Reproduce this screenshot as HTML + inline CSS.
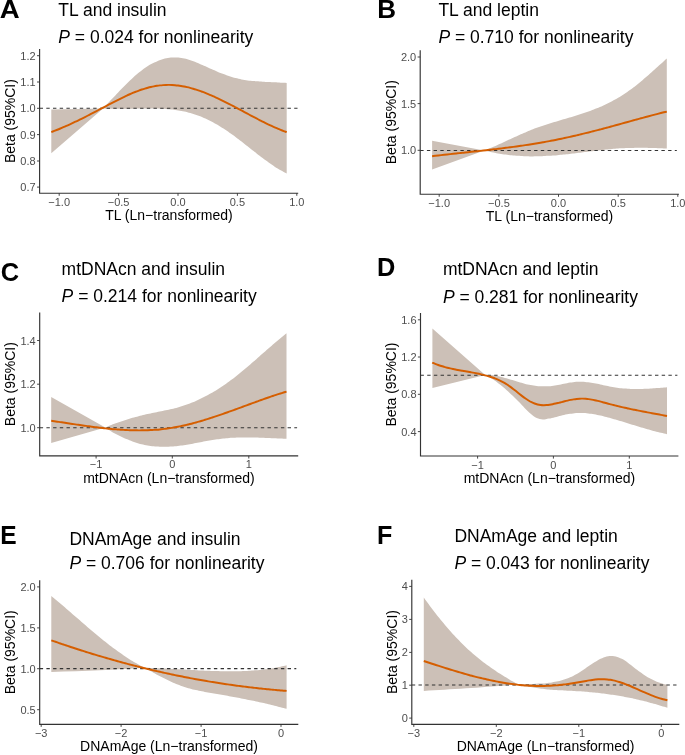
<!DOCTYPE html>
<html><head><meta charset="utf-8"><style>
html,body{margin:0;padding:0;background:#fff;}
svg{display:block;font-family:"Liberation Sans",sans-serif;will-change:transform;}
</style></head><body>
<svg width="685" height="755" viewBox="0 0 685 755" font-family="Liberation Sans, sans-serif">
<rect width="685" height="755" fill="#fff"/>
<path d="M51.30,109.60L103.10,108.50C104.10,107.44 105.11,106.38 106.11,105.32C107.11,104.25 108.12,103.18 109.12,102.10C110.12,101.03 111.13,99.95 112.13,98.87C113.13,97.80 114.14,96.72 115.14,95.65C116.14,94.58 117.15,93.51 118.15,92.45C119.15,91.39 120.16,90.34 121.16,89.30C122.16,88.25 123.17,87.22 124.17,86.20C125.17,85.18 126.18,84.18 127.18,83.19C128.18,82.20 129.19,81.22 130.19,80.27C131.19,79.32 132.20,78.38 133.20,77.47C134.20,76.56 135.20,75.67 136.21,74.81C137.21,73.95 138.21,73.11 139.22,72.30C140.22,71.49 141.22,70.71 142.23,69.97C143.23,69.22 144.23,68.50 145.24,67.82C146.24,67.13 147.24,66.48 148.25,65.86C149.25,65.24 150.25,64.65 151.26,64.09C152.26,63.53 153.26,63.01 154.27,62.52C155.27,62.03 156.27,61.58 157.28,61.16C158.28,60.73 159.28,60.35 160.29,60.00C161.29,59.64 162.29,59.33 163.30,59.05C164.30,58.77 165.30,58.52 166.31,58.31C167.31,58.10 168.31,57.93 169.32,57.80C170.32,57.66 171.32,57.56 172.33,57.50C173.33,57.44 174.33,57.42 175.34,57.44C176.34,57.45 177.34,57.51 178.35,57.60C179.35,57.69 180.35,57.82 181.36,57.98C182.36,58.14 183.36,58.33 184.37,58.55C185.37,58.77 186.37,59.03 187.38,59.31C188.38,59.58 189.38,59.89 190.39,60.22C191.39,60.55 192.39,60.90 193.40,61.27C194.40,61.64 195.40,62.03 196.40,62.43C197.41,62.83 198.41,63.25 199.41,63.68C200.42,64.10 201.42,64.54 202.42,64.97C203.43,65.41 204.43,65.86 205.43,66.31C206.44,66.75 207.44,67.20 208.44,67.65C209.45,68.10 210.45,68.55 211.45,69.00C212.46,69.45 213.46,69.90 214.46,70.34C215.47,70.78 216.47,71.21 217.47,71.64C218.48,72.07 219.48,72.49 220.48,72.91C221.49,73.32 222.49,73.72 223.49,74.11C224.50,74.50 225.50,74.88 226.50,75.24C227.51,75.60 228.51,75.95 229.51,76.28C230.52,76.61 231.52,76.92 232.52,77.21C233.53,77.50 234.53,77.78 235.53,78.04C236.54,78.29 237.54,78.53 238.54,78.76C239.55,78.98 240.55,79.19 241.55,79.38C242.56,79.57 243.56,79.75 244.56,79.92C245.57,80.09 246.57,80.24 247.57,80.38C248.58,80.52 249.58,80.65 250.58,80.77C251.59,80.89 252.59,81.00 253.59,81.10C254.60,81.20 255.60,81.29 256.60,81.37C257.60,81.45 258.61,81.53 259.61,81.60C260.61,81.67 261.62,81.73 262.62,81.79C263.62,81.85 264.63,81.90 265.63,81.95C266.63,82.01 267.64,82.05 268.64,82.10C269.64,82.14 270.65,82.19 271.65,82.23C272.65,82.27 273.66,82.31 274.66,82.36C275.66,82.40 276.67,82.44 277.67,82.49C278.67,82.54 279.68,82.58 280.68,82.64C281.68,82.69 282.69,82.74 283.69,82.80C284.69,82.86 285.70,82.93 286.70,83.00L286.70,173.60C285.70,173.09 284.69,172.60 283.69,172.06C282.69,171.52 281.68,170.96 280.68,170.37C279.68,169.79 278.67,169.19 277.67,168.56C276.67,167.94 275.66,167.30 274.66,166.64C273.66,165.98 272.65,165.30 271.65,164.61C270.65,163.92 269.64,163.21 268.64,162.49C267.64,161.77 266.63,161.04 265.63,160.30C264.63,159.56 263.62,158.81 262.62,158.05C261.62,157.29 260.61,156.52 259.61,155.74C258.61,154.97 257.60,154.18 256.60,153.40C255.60,152.62 254.60,151.83 253.59,151.04C252.59,150.25 251.59,149.45 250.58,148.66C249.58,147.87 248.58,147.07 247.57,146.28C246.57,145.49 245.57,144.70 244.56,143.92C243.56,143.14 242.56,142.35 241.55,141.58C240.55,140.80 239.55,140.03 238.54,139.27C237.54,138.50 236.54,137.75 235.53,137.00C234.53,136.25 233.53,135.51 232.52,134.79C231.52,134.06 230.52,133.34 229.51,132.64C228.51,131.93 227.51,131.24 226.50,130.56C225.50,129.88 224.50,129.22 223.49,128.57C222.49,127.92 221.49,127.29 220.48,126.67C219.48,126.05 218.48,125.44 217.47,124.86C216.47,124.27 215.47,123.69 214.46,123.14C213.46,122.58 212.46,122.04 211.45,121.52C210.45,120.99 209.45,120.49 208.44,120.00C207.44,119.51 206.44,119.04 205.43,118.58C204.43,118.13 203.43,117.69 202.42,117.27C201.42,116.85 200.42,116.45 199.41,116.07C198.41,115.69 197.41,115.32 196.40,114.98C195.40,114.63 194.40,114.30 193.40,113.99C192.39,113.68 191.39,113.38 190.39,113.10C189.38,112.82 188.38,112.56 187.38,112.31C186.37,112.06 185.37,111.83 184.37,111.61C183.36,111.39 182.36,111.18 181.36,110.99C180.35,110.80 179.35,110.62 178.35,110.45C177.34,110.29 176.34,110.13 175.34,109.99C174.33,109.85 173.33,109.72 172.33,109.60C171.32,109.48 170.32,109.37 169.32,109.27C168.31,109.18 167.31,109.09 166.31,109.01C165.30,108.93 164.30,108.86 163.30,108.80C162.29,108.74 161.29,108.68 160.29,108.64C159.28,108.59 158.28,108.55 157.28,108.52C156.27,108.49 155.27,108.47 154.27,108.45C153.26,108.43 152.26,108.42 151.26,108.41C150.25,108.40 149.25,108.40 148.25,108.40C147.24,108.40 146.24,108.41 145.24,108.41C144.23,108.42 143.23,108.44 142.23,108.45C141.22,108.47 140.22,108.48 139.22,108.50C138.21,108.52 137.21,108.54 136.21,108.56C135.20,108.59 134.20,108.61 133.20,108.63C132.20,108.65 131.19,108.68 130.19,108.70C129.19,108.72 128.18,108.74 127.18,108.76C126.18,108.78 125.17,108.80 124.17,108.82C123.17,108.83 122.16,108.84 121.16,108.85C120.16,108.86 119.15,108.87 118.15,108.87C117.15,108.88 116.14,108.87 115.14,108.87C114.14,108.86 113.13,108.85 112.13,108.83C111.13,108.82 110.12,108.79 109.12,108.76C108.12,108.73 107.11,108.70 106.11,108.65C105.11,108.61 104.10,108.55 103.10,108.50L103.10,108.50L51.30,153.30Z" fill="#CCC0B7"/>
<line x1="39.60" y1="108.30" x2="297.50" y2="108.30" stroke="#333" stroke-width="1.1" stroke-dasharray="3.4 3.3"/>
<path d="M51.30,132.10C52.31,131.71 53.31,131.33 54.32,130.94C55.32,130.55 56.33,130.15 57.34,129.74C58.34,129.34 59.35,128.92 60.35,128.50C61.36,128.08 62.37,127.65 63.37,127.22C64.38,126.79 65.38,126.35 66.39,125.90C67.40,125.46 68.40,125.01 69.41,124.55C70.41,124.09 71.42,123.63 72.43,123.16C73.43,122.69 74.44,122.22 75.44,121.74C76.45,121.26 77.46,120.77 78.46,120.28C79.47,119.79 80.47,119.30 81.48,118.80C82.49,118.30 83.49,117.79 84.50,117.29C85.50,116.78 86.51,116.27 87.52,115.75C88.52,115.24 89.53,114.72 90.53,114.20C91.54,113.67 92.55,113.15 93.55,112.62C94.56,112.10 95.56,111.57 96.57,111.04C97.58,110.51 98.58,109.98 99.59,109.45C100.59,108.92 101.60,108.39 102.61,107.86C103.61,107.33 104.62,106.80 105.62,106.27C106.63,105.74 107.64,105.22 108.64,104.69C109.65,104.16 110.65,103.64 111.66,103.11C112.66,102.59 113.67,102.07 114.68,101.56C115.68,101.04 116.69,100.53 117.69,100.02C118.70,99.51 119.71,99.01 120.71,98.51C121.72,98.02 122.72,97.53 123.73,97.05C124.74,96.57 125.74,96.09 126.75,95.63C127.75,95.16 128.76,94.71 129.77,94.26C130.77,93.82 131.78,93.39 132.78,92.97C133.79,92.55 134.80,92.14 135.80,91.74C136.81,91.35 137.81,90.96 138.82,90.60C139.83,90.23 140.83,89.88 141.84,89.54C142.84,89.21 143.85,88.89 144.86,88.59C145.86,88.28 146.87,88.00 147.87,87.73C148.88,87.46 149.89,87.21 150.89,86.98C151.90,86.75 152.90,86.53 153.91,86.34C154.92,86.14 155.92,85.97 156.93,85.81C157.93,85.65 158.94,85.51 159.95,85.39C160.95,85.28 161.96,85.18 162.96,85.10C163.97,85.02 164.98,84.96 165.98,84.93C166.99,84.89 167.99,84.87 169.00,84.88C170.01,84.88 171.01,84.91 172.02,84.96C173.02,85.00 174.03,85.07 175.04,85.16C176.04,85.25 177.05,85.36 178.05,85.48C179.06,85.61 180.07,85.76 181.07,85.92C182.08,86.08 183.08,86.27 184.09,86.46C185.10,86.66 186.10,86.88 187.11,87.11C188.11,87.34 189.12,87.59 190.13,87.86C191.13,88.12 192.14,88.40 193.14,88.70C194.15,88.99 195.16,89.30 196.16,89.62C197.17,89.94 198.17,90.28 199.18,90.63C200.19,90.98 201.19,91.34 202.20,91.71C203.20,92.09 204.21,92.47 205.22,92.87C206.22,93.27 207.23,93.68 208.23,94.09C209.24,94.51 210.25,94.94 211.25,95.38C212.26,95.82 213.26,96.26 214.27,96.72C215.28,97.18 216.28,97.64 217.29,98.11C218.29,98.58 219.30,99.06 220.31,99.55C221.31,100.04 222.32,100.53 223.32,101.03C224.33,101.53 225.34,102.03 226.34,102.54C227.35,103.05 228.35,103.57 229.36,104.08C230.36,104.60 231.37,105.13 232.38,105.65C233.38,106.18 234.39,106.71 235.39,107.24C236.40,107.77 237.41,108.31 238.41,108.84C239.42,109.38 240.42,109.92 241.43,110.46C242.44,110.99 243.44,111.53 244.45,112.07C245.45,112.61 246.46,113.15 247.47,113.69C248.47,114.22 249.48,114.76 250.48,115.29C251.49,115.83 252.50,116.36 253.50,116.89C254.51,117.42 255.51,117.95 256.52,118.47C257.53,118.99 258.53,119.51 259.54,120.03C260.54,120.54 261.55,121.06 262.56,121.56C263.56,122.06 264.57,122.57 265.57,123.06C266.58,123.55 267.59,124.04 268.59,124.52C269.60,125.00 270.60,125.47 271.61,125.94C272.62,126.40 273.62,126.86 274.63,127.31C275.63,127.75 276.64,128.19 277.65,128.62C278.65,129.05 279.66,129.47 280.66,129.88C281.67,130.29 282.68,130.69 283.68,131.07C284.69,131.46 285.69,131.82 286.70,132.20" fill="none" stroke="#D55E00" stroke-width="1.95" stroke-linecap="butt" stroke-linejoin="round"/>
<path d="M39.60,49.00V193.20H298.20" fill="none" stroke="#333333" stroke-width="1.15"/>
<line x1="37.00" y1="55.70" x2="39.60" y2="55.70" stroke="#333333" stroke-width="0.9"/>
<text x="35.60" y="59.70" text-anchor="end" font-size="11" fill="#4D4D4D">1.2</text>
<line x1="37.00" y1="82.00" x2="39.60" y2="82.00" stroke="#333333" stroke-width="0.9"/>
<text x="35.60" y="86.00" text-anchor="end" font-size="11" fill="#4D4D4D">1.1</text>
<line x1="37.00" y1="108.30" x2="39.60" y2="108.30" stroke="#333333" stroke-width="0.9"/>
<text x="35.60" y="112.30" text-anchor="end" font-size="11" fill="#4D4D4D">1.0</text>
<line x1="37.00" y1="134.60" x2="39.60" y2="134.60" stroke="#333333" stroke-width="0.9"/>
<text x="35.60" y="138.60" text-anchor="end" font-size="11" fill="#4D4D4D">0.9</text>
<line x1="37.00" y1="161.00" x2="39.60" y2="161.00" stroke="#333333" stroke-width="0.9"/>
<text x="35.60" y="165.00" text-anchor="end" font-size="11" fill="#4D4D4D">0.8</text>
<line x1="37.00" y1="187.10" x2="39.60" y2="187.10" stroke="#333333" stroke-width="0.9"/>
<text x="35.60" y="191.10" text-anchor="end" font-size="11" fill="#4D4D4D">0.7</text>
<line x1="59.20" y1="193.20" x2="59.20" y2="195.80" stroke="#333333" stroke-width="0.9"/>
<text x="59.20" y="205.70" text-anchor="middle" font-size="11" fill="#4D4D4D">−1.0</text>
<line x1="118.60" y1="193.20" x2="118.60" y2="195.80" stroke="#333333" stroke-width="0.9"/>
<text x="118.60" y="205.70" text-anchor="middle" font-size="11" fill="#4D4D4D">−0.5</text>
<line x1="178.00" y1="193.20" x2="178.00" y2="195.80" stroke="#333333" stroke-width="0.9"/>
<text x="178.00" y="205.70" text-anchor="middle" font-size="11" fill="#4D4D4D">0.0</text>
<line x1="237.40" y1="193.20" x2="237.40" y2="195.80" stroke="#333333" stroke-width="0.9"/>
<text x="237.40" y="205.70" text-anchor="middle" font-size="11" fill="#4D4D4D">0.5</text>
<line x1="296.80" y1="193.20" x2="296.80" y2="195.80" stroke="#333333" stroke-width="0.9"/>
<text x="296.80" y="205.70" text-anchor="middle" font-size="11" fill="#4D4D4D">1.0</text>
<text x="168.90" y="220.00" text-anchor="middle" font-size="14" fill="#000">TL (Ln−transformed)</text>
<text transform="translate(15.00,121.10) rotate(-90)" text-anchor="middle" font-size="14" fill="#000">Beta (95%CI)</text>
<text x="-0.34" y="18.40" font-size="26.5" font-weight="bold" fill="#000" textLength="19.93" lengthAdjust="spacingAndGlyphs">A</text>
<text x="58.30" y="15.60" font-size="17.5" fill="#000">TL and insulin</text>
<text x="58.30" y="42.70" font-size="17.5" fill="#000"><tspan font-style="italic">P</tspan> = 0.024 for nonlinearity</text>
<path d="M432.10,140.80L484.30,150.60C485.31,150.19 486.33,149.79 487.34,149.38C488.36,148.96 489.37,148.54 490.38,148.11C491.40,147.68 492.41,147.24 493.43,146.79C494.44,146.35 495.45,145.90 496.47,145.45C497.48,144.99 498.49,144.54 499.51,144.07C500.52,143.61 501.54,143.15 502.55,142.68C503.56,142.21 504.58,141.74 505.59,141.27C506.61,140.80 507.62,140.33 508.63,139.86C509.65,139.39 510.66,138.92 511.68,138.45C512.69,137.98 513.70,137.51 514.72,137.05C515.73,136.58 516.74,136.12 517.76,135.66C518.77,135.20 519.79,134.74 520.80,134.30C521.81,133.85 522.83,133.40 523.84,132.96C524.86,132.52 525.87,132.09 526.88,131.66C527.90,131.24 528.91,130.82 529.92,130.41C530.94,130.00 531.95,129.60 532.97,129.21C533.98,128.82 534.99,128.44 536.01,128.06C537.02,127.69 538.04,127.33 539.05,126.97C540.06,126.61 541.08,126.26 542.09,125.92C543.11,125.58 544.12,125.24 545.13,124.91C546.15,124.58 547.16,124.25 548.17,123.93C549.19,123.61 550.20,123.30 551.22,122.99C552.23,122.68 553.24,122.37 554.26,122.06C555.27,121.76 556.29,121.46 557.30,121.15C558.31,120.85 559.33,120.56 560.34,120.26C561.36,119.96 562.37,119.66 563.38,119.37C564.40,119.07 565.41,118.77 566.42,118.47C567.44,118.18 568.45,117.88 569.47,117.58C570.48,117.27 571.49,116.97 572.51,116.67C573.52,116.36 574.54,116.05 575.55,115.74C576.56,115.42 577.58,115.11 578.59,114.79C579.61,114.46 580.62,114.14 581.63,113.81C582.65,113.47 583.66,113.14 584.67,112.79C585.69,112.44 586.70,112.09 587.72,111.73C588.73,111.37 589.74,111.01 590.76,110.63C591.77,110.26 592.79,109.87 593.80,109.48C594.81,109.08 595.83,108.68 596.84,108.27C597.86,107.86 598.87,107.43 599.88,107.00C600.90,106.56 601.91,106.12 602.92,105.66C603.94,105.21 604.95,104.74 605.97,104.25C606.98,103.77 607.99,103.28 609.01,102.77C610.02,102.26 611.04,101.74 612.05,101.20C613.06,100.67 614.08,100.12 615.09,99.55C616.11,98.99 617.12,98.41 618.13,97.81C619.15,97.21 620.16,96.60 621.17,95.97C622.19,95.34 623.20,94.69 624.22,94.02C625.23,93.36 626.24,92.68 627.26,91.97C628.27,91.27 629.29,90.55 630.30,89.81C631.31,89.07 632.33,88.32 633.34,87.54C634.36,86.77 635.37,85.98 636.38,85.17C637.40,84.37 638.41,83.55 639.42,82.72C640.44,81.89 641.45,81.04 642.47,80.19C643.48,79.34 644.49,78.47 645.51,77.60C646.52,76.72 647.54,75.84 648.55,74.95C649.56,74.06 650.58,73.16 651.59,72.26C652.61,71.36 653.62,70.45 654.63,69.55C655.65,68.64 656.66,67.72 657.67,66.81C658.69,65.90 659.70,64.98 660.72,64.07C661.73,63.15 662.74,62.24 663.76,61.32C664.77,60.41 665.79,59.51 666.80,58.60L666.80,148.60C665.79,148.55 664.77,148.49 663.76,148.44C662.74,148.39 661.73,148.35 660.72,148.30C659.70,148.26 658.69,148.21 657.67,148.18C656.66,148.14 655.65,148.10 654.63,148.07C653.62,148.04 652.61,148.01 651.59,147.98C650.58,147.96 649.56,147.93 648.55,147.91C647.54,147.90 646.52,147.88 645.51,147.87C644.49,147.86 643.48,147.85 642.47,147.84C641.45,147.84 640.44,147.84 639.42,147.84C638.41,147.85 637.40,147.85 636.38,147.86C635.37,147.88 634.36,147.89 633.34,147.91C632.33,147.93 631.31,147.96 630.30,147.99C629.29,148.01 628.27,148.05 627.26,148.09C626.24,148.12 625.23,148.17 624.22,148.21C623.20,148.26 622.19,148.31 621.17,148.37C620.16,148.43 619.15,148.49 618.13,148.56C617.12,148.62 616.11,148.70 615.09,148.77C614.08,148.85 613.06,148.93 612.05,149.02C611.04,149.10 610.02,149.20 609.01,149.29C607.99,149.38 606.98,149.48 605.97,149.58C604.95,149.69 603.94,149.79 602.92,149.90C601.91,150.01 600.90,150.12 599.88,150.23C598.87,150.34 597.86,150.46 596.84,150.58C595.83,150.69 594.81,150.81 593.80,150.94C592.79,151.06 591.77,151.18 590.76,151.30C589.74,151.43 588.73,151.55 587.72,151.68C586.70,151.80 585.69,151.93 584.67,152.05C583.66,152.18 582.65,152.31 581.63,152.43C580.62,152.56 579.61,152.68 578.59,152.81C577.58,152.93 576.56,153.06 575.55,153.18C574.54,153.30 573.52,153.42 572.51,153.54C571.49,153.66 570.48,153.78 569.47,153.90C568.45,154.01 567.44,154.13 566.42,154.24C565.41,154.35 564.40,154.46 563.38,154.56C562.37,154.67 561.36,154.77 560.34,154.87C559.33,154.97 558.31,155.06 557.30,155.16C556.29,155.25 555.27,155.33 554.26,155.42C553.24,155.50 552.23,155.58 551.22,155.66C550.20,155.73 549.19,155.80 548.17,155.86C547.16,155.93 546.15,155.99 545.13,156.04C544.12,156.10 543.11,156.14 542.09,156.19C541.08,156.23 540.06,156.27 539.05,156.30C538.04,156.32 537.02,156.35 536.01,156.36C534.99,156.38 533.98,156.39 532.97,156.39C531.95,156.40 530.94,156.39 529.92,156.38C528.91,156.37 527.90,156.35 526.88,156.32C525.87,156.29 524.86,156.25 523.84,156.21C522.83,156.17 521.81,156.11 520.80,156.06C519.79,156.00 518.77,155.93 517.76,155.86C516.74,155.78 515.73,155.70 514.72,155.61C513.70,155.52 512.69,155.42 511.68,155.32C510.66,155.21 509.65,155.10 508.63,154.98C507.62,154.86 506.61,154.73 505.59,154.59C504.58,154.46 503.56,154.31 502.55,154.16C501.54,154.01 500.52,153.85 499.51,153.68C498.49,153.52 497.48,153.34 496.47,153.16C495.45,152.98 494.44,152.79 493.43,152.59C492.41,152.39 491.40,152.19 490.38,151.97C489.37,151.76 488.36,151.54 487.34,151.31C486.33,151.08 485.31,150.84 484.30,150.60L484.30,150.60L432.10,169.50Z" fill="#CCC0B7"/>
<line x1="420.20" y1="150.50" x2="676.80" y2="150.50" stroke="#333" stroke-width="1.1" stroke-dasharray="3.4 3.3"/>
<path d="M432.10,156.20C433.10,156.08 434.11,155.96 435.11,155.84C436.11,155.72 437.11,155.61 438.12,155.49C439.12,155.37 440.12,155.26 441.13,155.14C442.13,155.03 443.13,154.92 444.14,154.80C445.14,154.69 446.14,154.58 447.14,154.47C448.15,154.36 449.15,154.24 450.15,154.13C451.16,154.02 452.16,153.91 453.16,153.80C454.17,153.69 455.17,153.58 456.17,153.47C457.17,153.36 458.18,153.26 459.18,153.15C460.18,153.04 461.19,152.93 462.19,152.82C463.19,152.71 464.20,152.60 465.20,152.50C466.20,152.39 467.20,152.28 468.21,152.17C469.21,152.06 470.21,151.95 471.22,151.84C472.22,151.74 473.22,151.63 474.23,151.52C475.23,151.41 476.23,151.30 477.23,151.19C478.24,151.08 479.24,150.97 480.24,150.86C481.25,150.74 482.25,150.63 483.25,150.52C484.26,150.41 485.26,150.29 486.26,150.18C487.26,150.07 488.27,149.95 489.27,149.84C490.27,149.72 491.28,149.61 492.28,149.49C493.28,149.37 494.29,149.25 495.29,149.13C496.29,149.02 497.29,148.89 498.30,148.77C499.30,148.65 500.30,148.53 501.31,148.41C502.31,148.28 503.31,148.16 504.32,148.03C505.32,147.90 506.32,147.78 507.32,147.65C508.33,147.52 509.33,147.39 510.33,147.26C511.34,147.12 512.34,146.99 513.34,146.86C514.35,146.72 515.35,146.58 516.35,146.44C517.35,146.31 518.36,146.17 519.36,146.02C520.36,145.88 521.37,145.74 522.37,145.59C523.37,145.44 524.38,145.30 525.38,145.15C526.38,145.00 527.38,144.84 528.39,144.69C529.39,144.54 530.39,144.38 531.40,144.22C532.40,144.06 533.40,143.90 534.41,143.74C535.41,143.57 536.41,143.41 537.41,143.24C538.42,143.07 539.42,142.90 540.42,142.73C541.43,142.55 542.43,142.38 543.43,142.20C544.44,142.02 545.44,141.84 546.44,141.66C547.44,141.47 548.45,141.29 549.45,141.10C550.45,140.91 551.46,140.71 552.46,140.52C553.46,140.32 554.46,140.13 555.47,139.92C556.47,139.72 557.47,139.52 558.48,139.31C559.48,139.11 560.48,138.90 561.49,138.69C562.49,138.48 563.49,138.26 564.49,138.05C565.50,137.83 566.50,137.61 567.50,137.39C568.51,137.17 569.51,136.95 570.51,136.72C571.52,136.50 572.52,136.27 573.52,136.04C574.52,135.81 575.53,135.57 576.53,135.34C577.53,135.11 578.54,134.87 579.54,134.63C580.54,134.39 581.55,134.15 582.55,133.91C583.55,133.67 584.55,133.42 585.56,133.17C586.56,132.93 587.56,132.68 588.57,132.43C589.57,132.18 590.57,131.93 591.58,131.67C592.58,131.42 593.58,131.16 594.58,130.91C595.59,130.65 596.59,130.39 597.59,130.13C598.60,129.87 599.60,129.61 600.60,129.34C601.61,129.08 602.61,128.82 603.61,128.55C604.61,128.28 605.62,128.02 606.62,127.75C607.62,127.48 608.63,127.21 609.63,126.94C610.63,126.67 611.64,126.39 612.64,126.12C613.64,125.85 614.64,125.57 615.65,125.30C616.65,125.02 617.65,124.74 618.66,124.47C619.66,124.19 620.66,123.91 621.67,123.64C622.67,123.36 623.67,123.08 624.67,122.80C625.68,122.52 626.68,122.24 627.68,121.97C628.69,121.69 629.69,121.41 630.69,121.13C631.70,120.85 632.70,120.57 633.70,120.30C634.70,120.02 635.71,119.74 636.71,119.47C637.71,119.19 638.72,118.91 639.72,118.64C640.72,118.36 641.73,118.09 642.73,117.82C643.73,117.55 644.73,117.27 645.74,117.00C646.74,116.73 647.74,116.46 648.75,116.20C649.75,115.93 650.75,115.66 651.76,115.40C652.76,115.13 653.76,114.87 654.76,114.61C655.77,114.35 656.77,114.09 657.77,113.83C658.78,113.58 659.78,113.32 660.78,113.07C661.79,112.82 662.79,112.57 663.79,112.32C664.79,112.08 665.80,111.83 666.80,111.59" fill="none" stroke="#D55E00" stroke-width="1.95" stroke-linecap="butt" stroke-linejoin="round"/>
<path d="M420.20,50.20V194.20H678.90" fill="none" stroke="#333333" stroke-width="1.15"/>
<line x1="417.60" y1="57.00" x2="420.20" y2="57.00" stroke="#333333" stroke-width="0.9"/>
<text x="416.20" y="61.00" text-anchor="end" font-size="11" fill="#4D4D4D">2.0</text>
<line x1="417.60" y1="103.60" x2="420.20" y2="103.60" stroke="#333333" stroke-width="0.9"/>
<text x="416.20" y="107.60" text-anchor="end" font-size="11" fill="#4D4D4D">1.5</text>
<line x1="417.60" y1="150.30" x2="420.20" y2="150.30" stroke="#333333" stroke-width="0.9"/>
<text x="416.20" y="154.30" text-anchor="end" font-size="11" fill="#4D4D4D">1.0</text>
<line x1="439.20" y1="194.20" x2="439.20" y2="196.80" stroke="#333333" stroke-width="0.9"/>
<text x="439.20" y="206.70" text-anchor="middle" font-size="11" fill="#4D4D4D">−1.0</text>
<line x1="498.90" y1="194.20" x2="498.90" y2="196.80" stroke="#333333" stroke-width="0.9"/>
<text x="498.90" y="206.70" text-anchor="middle" font-size="11" fill="#4D4D4D">−0.5</text>
<line x1="558.50" y1="194.20" x2="558.50" y2="196.80" stroke="#333333" stroke-width="0.9"/>
<text x="558.50" y="206.70" text-anchor="middle" font-size="11" fill="#4D4D4D">0.0</text>
<line x1="618.20" y1="194.20" x2="618.20" y2="196.80" stroke="#333333" stroke-width="0.9"/>
<text x="618.20" y="206.70" text-anchor="middle" font-size="11" fill="#4D4D4D">0.5</text>
<line x1="677.80" y1="194.20" x2="677.80" y2="196.80" stroke="#333333" stroke-width="0.9"/>
<text x="677.80" y="206.70" text-anchor="middle" font-size="11" fill="#4D4D4D">1.0</text>
<text x="549.55" y="221.00" text-anchor="middle" font-size="14" fill="#000">TL (Ln−transformed)</text>
<text transform="translate(395.60,122.20) rotate(-90)" text-anchor="middle" font-size="14" fill="#000">Beta (95%CI)</text>
<text x="377.14" y="18.40" font-size="26.5" font-weight="bold" fill="#000" textLength="18.78" lengthAdjust="spacingAndGlyphs">B</text>
<text x="438.40" y="15.90" font-size="17.5" fill="#000">TL and leptin</text>
<text x="438.40" y="42.80" font-size="17.5" fill="#000"><tspan font-style="italic">P</tspan> = 0.710 for nonlinearity</text>
<path d="M51.20,396.90L105.30,427.60C106.31,427.17 107.31,426.72 108.32,426.30C109.33,425.87 110.33,425.46 111.34,425.05C112.35,424.65 113.35,424.25 114.36,423.87C115.37,423.48 116.37,423.10 117.38,422.74C118.39,422.37 119.39,422.01 120.40,421.66C121.41,421.31 122.41,420.96 123.42,420.63C124.43,420.30 125.43,419.97 126.44,419.65C127.45,419.34 128.45,419.03 129.46,418.73C130.47,418.42 131.47,418.13 132.48,417.84C133.49,417.56 134.49,417.28 135.50,417.01C136.51,416.74 137.51,416.47 138.52,416.21C139.53,415.96 140.53,415.70 141.54,415.46C142.55,415.22 143.55,414.98 144.56,414.75C145.57,414.52 146.57,414.29 147.58,414.07C148.59,413.85 149.59,413.64 150.60,413.43C151.61,413.22 152.61,413.02 153.62,412.81C154.63,412.61 155.63,412.41 156.64,412.20C157.65,412.00 158.65,411.80 159.66,411.60C160.67,411.40 161.67,411.19 162.68,410.99C163.69,410.78 164.69,410.57 165.70,410.35C166.71,410.14 167.71,409.92 168.72,409.69C169.73,409.46 170.73,409.23 171.74,408.98C172.75,408.74 173.75,408.49 174.76,408.23C175.77,407.97 176.77,407.70 177.78,407.41C178.79,407.13 179.79,406.83 180.80,406.52C181.81,406.21 182.81,405.89 183.82,405.56C184.83,405.22 185.83,404.87 186.84,404.51C187.85,404.14 188.85,403.77 189.86,403.38C190.87,402.99 191.87,402.59 192.88,402.17C193.89,401.75 194.89,401.32 195.90,400.88C196.91,400.44 197.91,399.98 198.92,399.52C199.93,399.05 200.93,398.56 201.94,398.07C202.95,397.57 203.95,397.06 204.96,396.54C205.97,396.02 206.97,395.49 207.98,394.94C208.99,394.39 209.99,393.83 211.00,393.25C212.01,392.68 213.01,392.09 214.02,391.49C215.03,390.89 216.03,390.28 217.04,389.65C218.05,389.02 219.05,388.38 220.06,387.73C221.07,387.08 222.07,386.41 223.08,385.73C224.09,385.05 225.09,384.36 226.10,383.65C227.11,382.95 228.11,382.23 229.12,381.50C230.13,380.77 231.13,380.02 232.14,379.27C233.15,378.51 234.15,377.74 235.16,376.96C236.17,376.17 237.17,375.38 238.18,374.57C239.19,373.77 240.19,372.95 241.20,372.12C242.21,371.30 243.21,370.46 244.22,369.62C245.23,368.78 246.23,367.92 247.24,367.07C248.25,366.21 249.25,365.34 250.26,364.47C251.27,363.60 252.27,362.73 253.28,361.85C254.29,360.97 255.29,360.09 256.30,359.20C257.31,358.32 258.31,357.43 259.32,356.54C260.33,355.65 261.33,354.76 262.34,353.87C263.35,352.98 264.35,352.09 265.36,351.20C266.37,350.32 267.37,349.43 268.38,348.55C269.39,347.67 270.39,346.79 271.40,345.91C272.41,345.04 273.41,344.17 274.42,343.30C275.43,342.44 276.43,341.58 277.44,340.73C278.45,339.88 279.45,339.03 280.46,338.20C281.47,337.36 282.47,336.53 283.48,335.72C284.49,334.90 285.49,334.11 286.50,333.30L286.50,438.80C285.49,438.77 284.49,438.74 283.48,438.70C282.47,438.67 281.47,438.63 280.46,438.59C279.45,438.55 278.45,438.50 277.44,438.46C276.43,438.42 275.43,438.37 274.42,438.32C273.41,438.28 272.41,438.23 271.40,438.19C270.39,438.14 269.39,438.09 268.38,438.05C267.37,438.00 266.37,437.96 265.36,437.91C264.35,437.87 263.35,437.82 262.34,437.78C261.33,437.74 260.33,437.70 259.32,437.67C258.31,437.63 257.31,437.60 256.30,437.57C255.29,437.54 254.29,437.51 253.28,437.49C252.27,437.47 251.27,437.45 250.26,437.43C249.25,437.42 248.25,437.41 247.24,437.40C246.23,437.40 245.23,437.40 244.22,437.41C243.21,437.41 242.21,437.43 241.20,437.45C240.19,437.47 239.19,437.49 238.18,437.52C237.17,437.56 236.17,437.60 235.16,437.64C234.15,437.69 233.15,437.75 232.14,437.81C231.13,437.88 230.13,437.95 229.12,438.03C228.11,438.11 227.11,438.20 226.10,438.30C225.09,438.39 224.09,438.50 223.08,438.61C222.07,438.72 221.07,438.84 220.06,438.96C219.05,439.09 218.05,439.22 217.04,439.36C216.03,439.51 215.03,439.65 214.02,439.81C213.01,439.96 212.01,440.13 211.00,440.29C209.99,440.46 208.99,440.64 207.98,440.82C206.97,440.99 205.97,441.18 204.96,441.37C203.95,441.55 202.95,441.74 201.94,441.93C200.93,442.12 199.93,442.32 198.92,442.51C197.91,442.70 196.91,442.89 195.90,443.08C194.89,443.27 193.89,443.46 192.88,443.65C191.87,443.83 190.87,444.01 189.86,444.19C188.85,444.37 187.85,444.54 186.84,444.71C185.83,444.87 184.83,445.03 183.82,445.18C182.81,445.34 181.81,445.48 180.80,445.61C179.79,445.75 178.79,445.87 177.78,445.99C176.77,446.10 175.77,446.20 174.76,446.30C173.75,446.39 172.75,446.47 171.74,446.54C170.73,446.61 169.73,446.66 168.72,446.71C167.71,446.75 166.71,446.78 165.70,446.80C164.69,446.82 163.69,446.82 162.68,446.81C161.67,446.80 160.67,446.77 159.66,446.73C158.65,446.69 157.65,446.64 156.64,446.56C155.63,446.49 154.63,446.40 153.62,446.30C152.61,446.20 151.61,446.07 150.60,445.94C149.59,445.80 148.59,445.64 147.58,445.47C146.57,445.29 145.57,445.10 144.56,444.89C143.55,444.67 142.55,444.44 141.54,444.20C140.53,443.95 139.53,443.68 138.52,443.40C137.51,443.11 136.51,442.81 135.50,442.49C134.49,442.17 133.49,441.83 132.48,441.47C131.47,441.11 130.47,440.74 129.46,440.35C128.45,439.95 127.45,439.54 126.44,439.12C125.43,438.69 124.43,438.24 123.42,437.78C122.41,437.32 121.41,436.84 120.40,436.34C119.39,435.84 118.39,435.33 117.38,434.80C116.37,434.26 115.37,433.71 114.36,433.15C113.35,432.58 112.35,432.00 111.34,431.40C110.33,430.80 109.33,430.18 108.32,429.55C107.31,428.92 106.31,428.25 105.30,427.60L105.30,427.60L51.20,442.90Z" fill="#CCC0B7"/>
<line x1="39.70" y1="427.70" x2="297.10" y2="427.70" stroke="#333" stroke-width="1.1" stroke-dasharray="3.4 3.3"/>
<path d="M51.20,420.80C52.21,420.94 53.21,421.08 54.22,421.23C55.22,421.37 56.23,421.52 57.23,421.67C58.24,421.82 59.24,421.96 60.25,422.11C61.26,422.26 62.26,422.41 63.27,422.56C64.27,422.71 65.28,422.86 66.28,423.02C67.29,423.17 68.29,423.32 69.30,423.47C70.31,423.62 71.31,423.77 72.32,423.92C73.32,424.07 74.33,424.22 75.33,424.37C76.34,424.52 77.34,424.66 78.35,424.81C79.36,424.96 80.36,425.10 81.37,425.25C82.37,425.39 83.38,425.54 84.38,425.68C85.39,425.82 86.39,425.96 87.40,426.10C88.41,426.24 89.41,426.38 90.42,426.51C91.42,426.65 92.43,426.78 93.43,426.91C94.44,427.04 95.44,427.17 96.45,427.29C97.46,427.42 98.46,427.54 99.47,427.66C100.47,427.78 101.48,427.90 102.48,428.01C103.49,428.13 104.49,428.24 105.50,428.35C106.51,428.46 107.51,428.56 108.52,428.66C109.52,428.76 110.53,428.86 111.53,428.95C112.54,429.05 113.54,429.14 114.55,429.22C115.56,429.31 116.56,429.39 117.57,429.47C118.57,429.54 119.58,429.62 120.58,429.69C121.59,429.75 122.59,429.82 123.60,429.88C124.61,429.93 125.61,429.99 126.62,430.04C127.62,430.08 128.63,430.13 129.63,430.17C130.64,430.20 131.64,430.24 132.65,430.26C133.66,430.29 134.66,430.31 135.67,430.33C136.67,430.34 137.68,430.35 138.68,430.35C139.69,430.36 140.69,430.35 141.70,430.34C142.71,430.33 143.71,430.32 144.72,430.29C145.72,430.27 146.73,430.24 147.73,430.20C148.74,430.17 149.74,430.12 150.75,430.07C151.76,430.02 152.76,429.96 153.77,429.90C154.77,429.83 155.78,429.76 156.78,429.68C157.79,429.60 158.79,429.51 159.80,429.41C160.81,429.31 161.81,429.21 162.82,429.10C163.82,428.98 164.83,428.86 165.83,428.73C166.84,428.60 167.84,428.46 168.85,428.31C169.86,428.17 170.86,428.01 171.87,427.85C172.87,427.68 173.88,427.51 174.88,427.33C175.89,427.15 176.89,426.96 177.90,426.76C178.91,426.56 179.91,426.36 180.92,426.14C181.92,425.93 182.93,425.71 183.93,425.48C184.94,425.26 185.94,425.02 186.95,424.78C187.96,424.54 188.96,424.29 189.97,424.04C190.97,423.79 191.98,423.53 192.98,423.26C193.99,422.99 194.99,422.72 196.00,422.44C197.01,422.17 198.01,421.88 199.02,421.59C200.02,421.31 201.03,421.01 202.03,420.71C203.04,420.41 204.04,420.11 205.05,419.80C206.06,419.49 207.06,419.18 208.07,418.86C209.07,418.54 210.08,418.22 211.08,417.89C212.09,417.57 213.09,417.24 214.10,416.91C215.11,416.57 216.11,416.24 217.12,415.90C218.12,415.56 219.13,415.21 220.13,414.87C221.14,414.52 222.14,414.17 223.15,413.82C224.16,413.47 225.16,413.11 226.17,412.76C227.17,412.40 228.18,412.04 229.18,411.68C230.19,411.32 231.19,410.96 232.20,410.60C233.21,410.23 234.21,409.87 235.22,409.50C236.22,409.14 237.23,408.77 238.23,408.40C239.24,408.03 240.24,407.67 241.25,407.30C242.26,406.93 243.26,406.56 244.27,406.19C245.27,405.82 246.28,405.45 247.28,405.08C248.29,404.71 249.29,404.34 250.30,403.97C251.31,403.60 252.31,403.24 253.32,402.87C254.32,402.50 255.33,402.14 256.33,401.77C257.34,401.41 258.34,401.05 259.35,400.68C260.36,400.32 261.36,399.96 262.37,399.61C263.37,399.25 264.38,398.89 265.38,398.54C266.39,398.19 267.39,397.84 268.40,397.49C269.41,397.14 270.41,396.79 271.42,396.45C272.42,396.11 273.43,395.77 274.43,395.44C275.44,395.10 276.44,394.77 277.45,394.44C278.46,394.11 279.46,393.79 280.47,393.47C281.47,393.15 282.48,392.83 283.48,392.52C284.49,392.21 285.49,391.90 286.50,391.60" fill="none" stroke="#D55E00" stroke-width="1.95" stroke-linecap="butt" stroke-linejoin="round"/>
<path d="M39.70,312.40V455.90H298.20" fill="none" stroke="#333333" stroke-width="1.15"/>
<line x1="37.10" y1="340.50" x2="39.70" y2="340.50" stroke="#333333" stroke-width="0.9"/>
<text x="35.70" y="344.50" text-anchor="end" font-size="11" fill="#4D4D4D">1.4</text>
<line x1="37.10" y1="384.20" x2="39.70" y2="384.20" stroke="#333333" stroke-width="0.9"/>
<text x="35.70" y="388.20" text-anchor="end" font-size="11" fill="#4D4D4D">1.2</text>
<line x1="37.10" y1="427.70" x2="39.70" y2="427.70" stroke="#333333" stroke-width="0.9"/>
<text x="35.70" y="431.70" text-anchor="end" font-size="11" fill="#4D4D4D">1.0</text>
<line x1="96.10" y1="455.90" x2="96.10" y2="458.50" stroke="#333333" stroke-width="0.9"/>
<text x="96.10" y="468.40" text-anchor="middle" font-size="11" fill="#4D4D4D">−1</text>
<line x1="172.30" y1="455.90" x2="172.30" y2="458.50" stroke="#333333" stroke-width="0.9"/>
<text x="172.30" y="468.40" text-anchor="middle" font-size="11" fill="#4D4D4D">0</text>
<line x1="248.80" y1="455.90" x2="248.80" y2="458.50" stroke="#333333" stroke-width="0.9"/>
<text x="248.80" y="468.40" text-anchor="middle" font-size="11" fill="#4D4D4D">1</text>
<text x="168.95" y="482.70" text-anchor="middle" font-size="14" fill="#000">mtDNAcn (Ln−transformed)</text>
<text transform="translate(15.10,384.15) rotate(-90)" text-anchor="middle" font-size="14" fill="#000">Beta (95%CI)</text>
<text x="0.84" y="281.00" font-size="26.5" font-weight="bold" fill="#000" textLength="18.35" lengthAdjust="spacingAndGlyphs">C</text>
<text x="61.60" y="275.20" font-size="17.5" fill="#000">mtDNAcn and insulin</text>
<text x="61.60" y="301.90" font-size="17.5" fill="#000"><tspan font-style="italic">P</tspan> = 0.214 for nonlinearity</text>
<path d="M432.40,328.60L485.20,374.90C486.21,374.90 487.22,374.87 488.23,374.91C489.24,374.94 490.25,375.01 491.26,375.11C492.27,375.21 493.28,375.33 494.29,375.48C495.30,375.63 496.31,375.81 497.32,376.01C498.33,376.21 499.34,376.43 500.35,376.66C501.36,376.90 502.37,377.15 503.38,377.42C504.39,377.68 505.40,377.96 506.41,378.25C507.42,378.54 508.43,378.84 509.44,379.14C510.45,379.45 511.46,379.76 512.47,380.07C513.48,380.38 514.49,380.69 515.50,381.00C516.51,381.31 517.52,381.62 518.53,381.92C519.54,382.23 520.55,382.52 521.56,382.81C522.57,383.10 523.58,383.37 524.59,383.64C525.60,383.90 526.61,384.15 527.62,384.38C528.63,384.61 529.64,384.82 530.65,385.01C531.66,385.21 532.67,385.38 533.68,385.53C534.69,385.68 535.70,385.82 536.71,385.93C537.72,386.04 538.73,386.13 539.74,386.20C540.75,386.27 541.76,386.32 542.77,386.34C543.78,386.37 544.79,386.38 545.80,386.36C546.81,386.35 547.82,386.31 548.83,386.25C549.84,386.19 550.85,386.11 551.86,386.00C552.87,385.90 553.88,385.77 554.89,385.62C555.90,385.47 556.91,385.30 557.92,385.11C558.93,384.92 559.94,384.71 560.95,384.50C561.96,384.29 562.97,384.07 563.98,383.85C564.99,383.63 566.00,383.41 567.01,383.20C568.02,383.00 569.03,382.79 570.04,382.62C571.05,382.44 572.06,382.27 573.07,382.13C574.08,382.00 575.09,381.88 576.10,381.81C577.11,381.73 578.12,381.69 579.13,381.68C580.14,381.66 581.15,381.68 582.16,381.73C583.17,381.77 584.18,381.84 585.19,381.93C586.20,382.02 587.21,382.14 588.22,382.27C589.23,382.41 590.24,382.56 591.25,382.73C592.26,382.89 593.27,383.08 594.28,383.27C595.29,383.46 596.30,383.66 597.31,383.87C598.32,384.08 599.33,384.30 600.34,384.52C601.35,384.74 602.36,384.96 603.37,385.18C604.38,385.40 605.39,385.63 606.40,385.84C607.41,386.06 608.42,386.27 609.43,386.48C610.44,386.68 611.45,386.88 612.46,387.06C613.47,387.24 614.48,387.41 615.49,387.57C616.50,387.73 617.51,387.87 618.52,388.00C619.53,388.12 620.54,388.24 621.55,388.34C622.56,388.44 623.57,388.53 624.58,388.61C625.59,388.69 626.60,388.76 627.61,388.81C628.62,388.87 629.63,388.91 630.64,388.95C631.65,388.98 632.66,389.00 633.67,389.02C634.68,389.04 635.69,389.04 636.70,389.04C637.71,389.04 638.72,389.02 639.73,389.00C640.74,388.99 641.75,388.96 642.76,388.92C643.77,388.89 644.78,388.85 645.79,388.80C646.80,388.76 647.81,388.70 648.82,388.65C649.83,388.59 650.84,388.52 651.85,388.46C652.86,388.39 653.87,388.32 654.88,388.24C655.89,388.16 656.90,388.08 657.91,388.00C658.92,387.92 659.93,387.83 660.94,387.74C661.95,387.66 662.96,387.57 663.97,387.48C664.98,387.39 665.99,387.29 667.00,387.20L667.00,434.20C665.99,433.98 664.98,433.77 663.97,433.54C662.96,433.31 661.95,433.08 660.94,432.83C659.93,432.59 658.92,432.34 657.91,432.08C656.90,431.83 655.89,431.56 654.88,431.29C653.87,431.03 652.86,430.75 651.85,430.47C650.84,430.19 649.83,429.91 648.82,429.62C647.81,429.33 646.80,429.03 645.79,428.74C644.78,428.44 643.77,428.14 642.76,427.84C641.75,427.54 640.74,427.23 639.73,426.92C638.72,426.62 637.71,426.31 636.70,426.00C635.69,425.69 634.68,425.37 633.67,425.06C632.66,424.75 631.65,424.44 630.64,424.13C629.63,423.81 628.62,423.50 627.61,423.19C626.60,422.88 625.59,422.57 624.58,422.26C623.57,421.95 622.56,421.65 621.55,421.34C620.54,421.04 619.53,420.74 618.52,420.44C617.51,420.14 616.50,419.85 615.49,419.56C614.48,419.27 613.47,418.98 612.46,418.70C611.45,418.42 610.44,418.14 609.43,417.87C608.42,417.60 607.41,417.34 606.40,417.08C605.39,416.82 604.38,416.57 603.37,416.32C602.36,416.07 601.35,415.84 600.34,415.60C599.33,415.37 598.32,415.15 597.31,414.94C596.30,414.73 595.29,414.52 594.28,414.33C593.27,414.15 592.26,413.97 591.25,413.81C590.24,413.65 589.23,413.51 588.22,413.39C587.21,413.27 586.20,413.17 585.19,413.09C584.18,413.01 583.17,412.95 582.16,412.93C581.15,412.90 580.14,412.90 579.13,412.92C578.12,412.95 577.11,413.00 576.10,413.08C575.09,413.16 574.08,413.26 573.07,413.39C572.06,413.51 571.05,413.66 570.04,413.82C569.03,413.98 568.02,414.16 567.01,414.35C566.00,414.55 564.99,414.76 563.98,414.97C562.97,415.19 561.96,415.42 560.95,415.66C559.94,415.89 558.93,416.14 557.92,416.38C556.91,416.63 555.90,416.88 554.89,417.13C553.88,417.38 552.87,417.64 551.86,417.88C550.85,418.13 549.84,418.39 548.83,418.61C547.82,418.82 546.81,419.05 545.80,419.18C544.79,419.32 543.78,419.43 542.77,419.42C541.76,419.41 540.75,419.34 539.74,419.12C538.73,418.90 537.72,418.57 536.71,418.10C535.70,417.62 534.69,416.99 533.68,416.28C532.67,415.57 531.66,414.73 530.65,413.85C529.64,412.98 528.63,412.00 527.62,411.02C526.61,410.03 525.60,408.99 524.59,407.95C523.58,406.90 522.57,405.82 521.56,404.77C520.55,403.71 519.54,402.64 518.53,401.60C517.52,400.56 516.51,399.53 515.50,398.52C514.49,397.50 513.48,396.51 512.47,395.53C511.46,394.55 510.45,393.59 509.44,392.65C508.43,391.71 507.42,390.79 506.41,389.89C505.40,388.99 504.39,388.12 503.38,387.26C502.37,386.41 501.36,385.58 500.35,384.78C499.34,383.98 498.33,383.20 497.32,382.45C496.31,381.70 495.30,380.98 494.29,380.28C493.28,379.59 492.27,378.93 491.26,378.30C490.25,377.67 489.24,377.06 488.23,376.50C487.22,375.93 486.21,375.43 485.20,374.90L485.20,374.90L432.40,388.00Z" fill="#CCC0B7"/>
<line x1="420.50" y1="375.30" x2="677.40" y2="375.30" stroke="#333" stroke-width="1.1" stroke-dasharray="3.4 3.3"/>
<path d="M432.20,362.60C433.20,363.02 434.21,363.46 435.21,363.85C436.21,364.25 437.22,364.62 438.22,364.98C439.22,365.33 440.23,365.66 441.23,365.98C442.23,366.30 443.24,366.59 444.24,366.88C445.24,367.16 446.25,367.43 447.25,367.68C448.25,367.94 449.26,368.18 450.26,368.41C451.26,368.64 452.27,368.85 453.27,369.06C454.28,369.28 455.28,369.47 456.28,369.67C457.29,369.86 458.29,370.05 459.29,370.23C460.30,370.42 461.30,370.59 462.30,370.77C463.31,370.95 464.31,371.12 465.31,371.29C466.32,371.46 467.32,371.64 468.32,371.81C469.33,371.99 470.33,372.16 471.33,372.34C472.34,372.52 473.34,372.71 474.34,372.90C475.35,373.09 476.35,373.29 477.35,373.49C478.36,373.70 479.36,373.91 480.36,374.14C481.37,374.37 482.37,374.60 483.37,374.85C484.38,375.10 485.38,375.36 486.38,375.64C487.39,375.91 488.39,376.20 489.39,376.51C490.40,376.82 491.40,377.15 492.41,377.49C493.41,377.84 494.41,378.20 495.42,378.59C496.42,378.98 497.42,379.40 498.43,379.84C499.43,380.29 500.43,380.76 501.44,381.27C502.44,381.78 503.44,382.32 504.45,382.90C505.45,383.49 506.45,384.11 507.46,384.78C508.46,385.44 509.46,386.16 510.47,386.90C511.47,387.64 512.47,388.42 513.48,389.21C514.48,389.99 515.48,390.81 516.49,391.61C517.49,392.42 518.49,393.23 519.50,394.02C520.50,394.81 521.50,395.60 522.51,396.35C523.51,397.10 524.51,397.84 525.52,398.52C526.52,399.21 527.52,399.86 528.53,400.47C529.53,401.07 530.54,401.64 531.54,402.14C532.54,402.64 533.55,403.10 534.55,403.48C535.55,403.86 536.56,404.19 537.56,404.44C538.56,404.69 539.57,404.87 540.57,404.99C541.57,405.11 542.58,405.16 543.58,405.17C544.58,405.18 545.59,405.13 546.59,405.05C547.59,404.97 548.60,404.85 549.60,404.71C550.60,404.56 551.61,404.39 552.61,404.20C553.61,404.01 554.62,403.79 555.62,403.56C556.62,403.34 557.63,403.09 558.63,402.85C559.63,402.60 560.64,402.34 561.64,402.09C562.64,401.83 563.65,401.57 564.65,401.32C565.65,401.06 566.66,400.81 567.66,400.58C568.66,400.34 569.67,400.11 570.67,399.90C571.68,399.70 572.68,399.50 573.68,399.34C574.69,399.17 575.69,399.03 576.69,398.92C577.70,398.81 578.70,398.72 579.70,398.68C580.71,398.63 581.71,398.63 582.71,398.65C583.72,398.67 584.72,398.73 585.72,398.81C586.73,398.90 587.73,399.01 588.73,399.15C589.74,399.29 590.74,399.45 591.74,399.63C592.75,399.81 593.75,400.01 594.75,400.23C595.76,400.44 596.76,400.68 597.76,400.92C598.77,401.16 599.77,401.42 600.77,401.68C601.78,401.94 602.78,402.22 603.78,402.49C604.79,402.76 605.79,403.04 606.79,403.31C607.80,403.58 608.80,403.86 609.81,404.13C610.81,404.39 611.81,404.66 612.82,404.91C613.82,405.17 614.82,405.42 615.83,405.67C616.83,405.92 617.83,406.16 618.84,406.40C619.84,406.64 620.84,406.87 621.85,407.10C622.85,407.34 623.85,407.56 624.86,407.78C625.86,408.01 626.86,408.23 627.87,408.44C628.87,408.66 629.87,408.87 630.88,409.08C631.88,409.29 632.88,409.50 633.89,409.70C634.89,409.91 635.89,410.11 636.90,410.31C637.90,410.51 638.90,410.70 639.91,410.90C640.91,411.09 641.91,411.29 642.92,411.48C643.92,411.67 644.92,411.86 645.93,412.05C646.93,412.24 647.94,412.43 648.94,412.62C649.94,412.81 650.95,412.99 651.95,413.18C652.95,413.37 653.96,413.55 654.96,413.74C655.96,413.93 656.97,414.11 657.97,414.30C658.97,414.49 659.98,414.67 660.98,414.86C661.98,415.05 662.99,415.24 663.99,415.43C664.99,415.62 666.00,415.81 667.00,416.00" fill="none" stroke="#D55E00" stroke-width="1.95" stroke-linecap="butt" stroke-linejoin="round"/>
<path d="M420.50,313.00V456.00H678.40" fill="none" stroke="#333333" stroke-width="1.15"/>
<line x1="417.90" y1="319.80" x2="420.50" y2="319.80" stroke="#333333" stroke-width="0.9"/>
<text x="416.50" y="323.80" text-anchor="end" font-size="11" fill="#4D4D4D">1.6</text>
<line x1="417.90" y1="357.00" x2="420.50" y2="357.00" stroke="#333333" stroke-width="0.9"/>
<text x="416.50" y="361.00" text-anchor="end" font-size="11" fill="#4D4D4D">1.2</text>
<line x1="417.90" y1="394.30" x2="420.50" y2="394.30" stroke="#333333" stroke-width="0.9"/>
<text x="416.50" y="398.30" text-anchor="end" font-size="11" fill="#4D4D4D">0.8</text>
<line x1="417.90" y1="431.60" x2="420.50" y2="431.60" stroke="#333333" stroke-width="0.9"/>
<text x="416.50" y="435.60" text-anchor="end" font-size="11" fill="#4D4D4D">0.4</text>
<line x1="477.60" y1="456.00" x2="477.60" y2="458.60" stroke="#333333" stroke-width="0.9"/>
<text x="477.60" y="468.50" text-anchor="middle" font-size="11" fill="#4D4D4D">−1</text>
<line x1="553.40" y1="456.00" x2="553.40" y2="458.60" stroke="#333333" stroke-width="0.9"/>
<text x="553.40" y="468.50" text-anchor="middle" font-size="11" fill="#4D4D4D">0</text>
<line x1="629.30" y1="456.00" x2="629.30" y2="458.60" stroke="#333333" stroke-width="0.9"/>
<text x="629.30" y="468.50" text-anchor="middle" font-size="11" fill="#4D4D4D">1</text>
<text x="549.45" y="482.80" text-anchor="middle" font-size="14" fill="#000">mtDNAcn (Ln−transformed)</text>
<text transform="translate(395.90,384.50) rotate(-90)" text-anchor="middle" font-size="14" fill="#000">Beta (95%CI)</text>
<text x="376.89" y="276.10" font-size="26.5" font-weight="bold" fill="#000" textLength="18.30" lengthAdjust="spacingAndGlyphs">D</text>
<text x="442.90" y="274.50" font-size="17.5" fill="#000">mtDNAcn and leptin</text>
<text x="442.90" y="303.00" font-size="17.5" fill="#000"><tspan font-style="italic">P</tspan> = 0.281 for nonlinearity</text>
<path d="M51.30,595.90C52.30,596.74 53.30,597.57 54.30,598.41C55.30,599.26 56.31,600.10 57.31,600.95C58.31,601.80 59.31,602.66 60.31,603.51C61.31,604.37 62.31,605.23 63.31,606.09C64.31,606.96 65.32,607.82 66.32,608.69C67.32,609.55 68.32,610.42 69.32,611.29C70.32,612.16 71.32,613.03 72.32,613.90C73.32,614.77 74.32,615.64 75.33,616.51C76.33,617.38 77.33,618.25 78.33,619.12C79.33,619.99 80.33,620.86 81.33,621.72C82.33,622.59 83.33,623.45 84.34,624.31C85.34,625.17 86.34,626.03 87.34,626.89C88.34,627.75 89.34,628.60 90.34,629.45C91.34,630.30 92.34,631.14 93.35,631.98C94.35,632.83 95.35,633.66 96.35,634.49C97.35,635.33 98.35,636.15 99.35,636.97C100.35,637.79 101.35,638.61 102.35,639.42C103.36,640.22 104.36,641.03 105.36,641.82C106.36,642.62 107.36,643.40 108.36,644.18C109.36,644.96 110.36,645.73 111.36,646.50C112.37,647.26 113.37,648.02 114.37,648.76C115.37,649.51 116.37,650.24 117.37,650.97C118.37,651.70 119.37,652.41 120.37,653.12C121.38,653.83 122.38,654.52 123.38,655.21C124.38,655.89 125.38,656.56 126.38,657.23C127.38,657.89 128.38,658.54 129.38,659.17C130.38,659.81 131.39,660.43 132.39,661.05C133.39,661.66 134.39,662.26 135.39,662.84C136.39,663.42 137.39,663.99 138.39,664.55C139.39,665.10 140.40,665.64 141.40,666.17C142.40,666.70 143.40,667.19 144.40,667.70C145.41,667.73 146.42,667.76 147.43,667.80C148.43,667.83 149.44,667.87 150.45,667.90C151.46,667.94 152.47,667.98 153.48,668.02C154.49,668.06 155.49,668.11 156.50,668.15C157.51,668.19 158.52,668.24 159.53,668.29C160.54,668.34 161.54,668.38 162.55,668.43C163.56,668.48 164.57,668.53 165.58,668.59C166.59,668.64 167.60,668.69 168.60,668.74C169.61,668.80 170.62,668.85 171.63,668.91C172.64,668.96 173.65,669.02 174.66,669.07C175.66,669.13 176.67,669.18 177.68,669.24C178.69,669.30 179.70,669.35 180.71,669.41C181.71,669.46 182.72,669.52 183.73,669.58C184.74,669.63 185.75,669.69 186.76,669.74C187.77,669.80 188.77,669.85 189.78,669.91C190.79,669.96 191.80,670.02 192.81,670.07C193.82,670.12 194.83,670.17 195.83,670.23C196.84,670.28 197.85,670.33 198.86,670.38C199.87,670.42 200.88,670.47 201.89,670.52C202.89,670.56 203.90,670.61 204.91,670.65C205.92,670.70 206.93,670.74 207.94,670.78C208.94,670.82 209.95,670.86 210.96,670.89C211.97,670.93 212.98,670.96 213.99,671.00C215.00,671.03 216.00,671.06 217.01,671.09C218.02,671.11 219.03,671.14 220.04,671.16C221.05,671.18 222.06,671.20 223.06,671.22C224.07,671.24 225.08,671.25 226.09,671.27C227.10,671.28 228.11,671.29 229.11,671.29C230.12,671.30 231.13,671.30 232.14,671.30C233.15,671.30 234.16,671.29 235.17,671.28C236.17,671.27 237.18,671.26 238.19,671.24C239.20,671.23 240.21,671.20 241.22,671.18C242.23,671.15 243.23,671.12 244.24,671.08C245.25,671.04 246.26,671.00 247.27,670.95C248.28,670.90 249.29,670.85 250.29,670.78C251.30,670.72 252.31,670.66 253.32,670.58C254.33,670.51 255.34,670.43 256.34,670.34C257.35,670.25 258.36,670.16 259.37,670.06C260.38,669.96 261.39,669.85 262.40,669.73C263.40,669.61 264.41,669.49 265.42,669.36C266.43,669.22 267.44,669.08 268.45,668.93C269.46,668.78 270.46,668.62 271.47,668.45C272.48,668.29 273.49,668.11 274.50,667.92C275.51,667.74 276.51,667.54 277.52,667.33C278.53,667.13 279.54,666.91 280.55,666.69C281.56,666.46 282.57,666.22 283.57,665.98C284.58,665.73 285.59,665.46 286.60,665.20L286.60,708.70C285.59,708.44 284.58,708.17 283.57,707.91C282.57,707.65 281.56,707.39 280.55,707.14C279.54,706.88 278.53,706.63 277.52,706.38C276.51,706.13 275.51,705.89 274.50,705.64C273.49,705.40 272.48,705.16 271.47,704.92C270.46,704.68 269.46,704.44 268.45,704.21C267.44,703.97 266.43,703.74 265.42,703.51C264.41,703.28 263.40,703.06 262.40,702.83C261.39,702.61 260.38,702.39 259.37,702.17C258.36,701.95 257.35,701.73 256.34,701.51C255.34,701.30 254.33,701.09 253.32,700.87C252.31,700.66 251.30,700.45 250.29,700.25C249.29,700.04 248.28,699.83 247.27,699.63C246.26,699.43 245.25,699.23 244.24,699.03C243.23,698.83 242.23,698.63 241.22,698.43C240.21,698.24 239.20,698.04 238.19,697.85C237.18,697.66 236.17,697.47 235.17,697.28C234.16,697.09 233.15,696.90 232.14,696.71C231.13,696.53 230.12,696.34 229.11,696.16C228.11,695.98 227.10,695.80 226.09,695.62C225.08,695.44 224.07,695.26 223.06,695.08C222.06,694.90 221.05,694.73 220.04,694.55C219.03,694.38 218.02,694.20 217.01,694.03C216.00,693.86 215.00,693.69 213.99,693.51C212.98,693.34 211.97,693.17 210.96,693.00C209.95,692.83 208.94,692.66 207.94,692.48C206.93,692.31 205.92,692.13 204.91,691.94C203.90,691.76 202.89,691.57 201.89,691.37C200.88,691.18 199.87,690.98 198.86,690.77C197.85,690.55 196.84,690.33 195.83,690.10C194.83,689.87 193.82,689.63 192.81,689.38C191.80,689.13 190.79,688.86 189.78,688.58C188.77,688.30 187.77,688.01 186.76,687.70C185.75,687.39 184.74,687.07 183.73,686.73C182.72,686.39 181.71,686.03 180.71,685.66C179.70,685.29 178.69,684.90 177.68,684.51C176.67,684.11 175.66,683.70 174.66,683.27C173.65,682.85 172.64,682.41 171.63,681.96C170.62,681.51 169.61,681.05 168.60,680.58C167.60,680.10 166.59,679.62 165.58,679.12C164.57,678.63 163.56,678.12 162.55,677.61C161.54,677.09 160.54,676.57 159.53,676.03C158.52,675.50 157.51,674.96 156.50,674.41C155.49,673.87 154.49,673.32 153.48,672.76C152.47,672.20 151.46,671.64 150.45,671.08C149.44,670.52 148.43,669.96 147.43,669.39C146.42,668.83 145.41,668.26 144.40,667.70L144.40,667.70C129.60,668.53 115.52,669.50 100.00,670.20C84.48,670.90 67.53,671.33 51.30,671.90Z" fill="#CCC0B7"/>
<line x1="39.70" y1="668.60" x2="296.30" y2="668.60" stroke="#333" stroke-width="1.1" stroke-dasharray="3.4 3.3"/>
<path d="M51.30,640.30C52.31,640.65 53.31,641.01 54.32,641.36C55.32,641.72 56.33,642.07 57.33,642.42C58.34,642.77 59.34,643.12 60.35,643.46C61.36,643.81 62.36,644.15 63.37,644.49C64.37,644.84 65.38,645.18 66.38,645.52C67.39,645.85 68.39,646.19 69.40,646.53C70.41,646.86 71.41,647.19 72.42,647.53C73.42,647.86 74.43,648.19 75.43,648.52C76.44,648.84 77.44,649.17 78.45,649.49C79.46,649.82 80.46,650.14 81.47,650.46C82.47,650.78 83.48,651.10 84.48,651.42C85.49,651.74 86.49,652.05 87.50,652.36C88.51,652.68 89.51,652.99 90.52,653.30C91.52,653.61 92.53,653.92 93.53,654.22C94.54,654.53 95.54,654.83 96.55,655.14C97.56,655.44 98.56,655.74 99.57,656.04C100.57,656.34 101.58,656.64 102.58,656.93C103.59,657.23 104.59,657.52 105.60,657.81C106.61,658.10 107.61,658.39 108.62,658.68C109.62,658.97 110.63,659.26 111.63,659.54C112.64,659.83 113.64,660.11 114.65,660.39C115.66,660.67 116.66,660.95 117.67,661.23C118.67,661.51 119.68,661.78 120.68,662.06C121.69,662.33 122.69,662.60 123.70,662.87C124.71,663.14 125.71,663.41 126.72,663.68C127.72,663.94 128.73,664.21 129.73,664.47C130.74,664.74 131.74,665.00 132.75,665.26C133.76,665.52 134.76,665.77 135.77,666.03C136.77,666.28 137.78,666.54 138.78,666.79C139.79,667.04 140.79,667.29 141.80,667.54C142.81,667.79 143.81,668.04 144.82,668.28C145.82,668.53 146.83,668.77 147.83,669.01C148.84,669.25 149.84,669.49 150.85,669.73C151.86,669.97 152.86,670.20 153.87,670.44C154.87,670.67 155.88,670.91 156.88,671.14C157.89,671.37 158.89,671.60 159.90,671.82C160.91,672.05 161.91,672.27 162.92,672.50C163.92,672.72 164.93,672.94 165.93,673.16C166.94,673.38 167.94,673.60 168.95,673.82C169.96,674.03 170.96,674.25 171.97,674.46C172.97,674.67 173.98,674.88 174.98,675.09C175.99,675.30 176.99,675.51 178.00,675.71C179.01,675.92 180.01,676.12 181.02,676.32C182.02,676.53 183.03,676.73 184.03,676.92C185.04,677.12 186.04,677.32 187.05,677.51C188.06,677.71 189.06,677.90 190.07,678.09C191.07,678.28 192.08,678.47 193.08,678.66C194.09,678.85 195.09,679.03 196.10,679.22C197.11,679.40 198.11,679.58 199.12,679.76C200.12,679.94 201.13,680.12 202.13,680.30C203.14,680.47 204.14,680.65 205.15,680.82C206.16,680.99 207.16,681.17 208.17,681.34C209.17,681.50 210.18,681.67 211.18,681.84C212.19,682.00 213.19,682.17 214.20,682.33C215.21,682.49 216.21,682.65 217.22,682.81C218.22,682.97 219.23,683.13 220.23,683.28C221.24,683.44 222.24,683.59 223.25,683.74C224.26,683.89 225.26,684.04 226.27,684.19C227.27,684.34 228.28,684.48 229.28,684.63C230.29,684.77 231.29,684.91 232.30,685.05C233.31,685.19 234.31,685.33 235.32,685.47C236.32,685.61 237.33,685.74 238.33,685.88C239.34,686.01 240.34,686.14 241.35,686.27C242.36,686.40 243.36,686.53 244.37,686.65C245.37,686.78 246.38,686.91 247.38,687.03C248.39,687.15 249.39,687.27 250.40,687.39C251.41,687.51 252.41,687.63 253.42,687.74C254.42,687.86 255.43,687.97 256.43,688.08C257.44,688.19 258.44,688.30 259.45,688.41C260.46,688.52 261.46,688.63 262.47,688.73C263.47,688.84 264.48,688.94 265.48,689.04C266.49,689.14 267.49,689.24 268.50,689.34C269.51,689.43 270.51,689.53 271.52,689.62C272.52,689.72 273.53,689.81 274.53,689.90C275.54,689.99 276.54,690.08 277.55,690.17C278.56,690.25 279.56,690.34 280.57,690.42C281.57,690.50 282.58,690.58 283.58,690.66C284.59,690.74 285.59,690.82 286.60,690.90" fill="none" stroke="#D55E00" stroke-width="1.95" stroke-linecap="butt" stroke-linejoin="round"/>
<path d="M39.70,580.20V724.30H298.30" fill="none" stroke="#333333" stroke-width="1.15"/>
<line x1="37.10" y1="586.90" x2="39.70" y2="586.90" stroke="#333333" stroke-width="0.9"/>
<text x="35.70" y="590.90" text-anchor="end" font-size="11" fill="#4D4D4D">2.0</text>
<line x1="37.10" y1="627.90" x2="39.70" y2="627.90" stroke="#333333" stroke-width="0.9"/>
<text x="35.70" y="631.90" text-anchor="end" font-size="11" fill="#4D4D4D">1.5</text>
<line x1="37.10" y1="668.70" x2="39.70" y2="668.70" stroke="#333333" stroke-width="0.9"/>
<text x="35.70" y="672.70" text-anchor="end" font-size="11" fill="#4D4D4D">1.0</text>
<line x1="37.10" y1="709.70" x2="39.70" y2="709.70" stroke="#333333" stroke-width="0.9"/>
<text x="35.70" y="713.70" text-anchor="end" font-size="11" fill="#4D4D4D">0.5</text>
<line x1="41.20" y1="724.30" x2="41.20" y2="726.90" stroke="#333333" stroke-width="0.9"/>
<text x="41.20" y="736.80" text-anchor="middle" font-size="11" fill="#4D4D4D">−3</text>
<line x1="121.10" y1="724.30" x2="121.10" y2="726.90" stroke="#333333" stroke-width="0.9"/>
<text x="121.10" y="736.80" text-anchor="middle" font-size="11" fill="#4D4D4D">−2</text>
<line x1="201.10" y1="724.30" x2="201.10" y2="726.90" stroke="#333333" stroke-width="0.9"/>
<text x="201.10" y="736.80" text-anchor="middle" font-size="11" fill="#4D4D4D">−1</text>
<line x1="281.00" y1="724.30" x2="281.00" y2="726.90" stroke="#333333" stroke-width="0.9"/>
<text x="281.00" y="736.80" text-anchor="middle" font-size="11" fill="#4D4D4D">0</text>
<text x="169.00" y="751.10" text-anchor="middle" font-size="14" fill="#000">DNAmAge (Ln−transformed)</text>
<text transform="translate(15.10,652.25) rotate(-90)" text-anchor="middle" font-size="14" fill="#000">Beta (95%CI)</text>
<text x="0.25" y="543.50" font-size="26.5" font-weight="bold" fill="#000" textLength="16.39" lengthAdjust="spacingAndGlyphs">E</text>
<text x="69.40" y="544.90" font-size="17.5" fill="#000">DNAmAge and insulin</text>
<text x="69.40" y="569.20" font-size="17.5" fill="#000"><tspan font-style="italic">P</tspan> = 0.706 for nonlinearity</text>
<path d="M423.80,597.50C424.82,598.92 425.84,600.37 426.85,601.78C427.87,603.19 428.89,604.58 429.91,605.95C430.93,607.33 431.95,608.68 432.96,610.02C433.98,611.36 435.00,612.68 436.02,613.99C437.04,615.29 438.06,616.58 439.07,617.85C440.09,619.12 441.11,620.38 442.13,621.61C443.15,622.85 444.17,624.07 445.18,625.27C446.20,626.47 447.22,627.65 448.24,628.82C449.26,629.99 450.28,631.14 451.29,632.27C452.31,633.40 453.33,634.51 454.35,635.61C455.37,636.71 456.38,637.79 457.40,638.85C458.42,639.92 459.44,640.96 460.46,641.99C461.48,643.02 462.49,644.03 463.51,645.02C464.53,646.01 465.55,646.99 466.57,647.95C467.59,648.91 468.60,649.85 469.62,650.77C470.64,651.70 471.66,652.60 472.68,653.49C473.70,654.38 474.71,655.25 475.73,656.11C476.75,656.96 477.77,657.80 478.79,658.62C479.81,659.45 480.82,660.25 481.84,661.04C482.86,661.83 483.88,662.61 484.90,663.37C485.92,664.13 486.93,664.88 487.95,665.61C488.97,666.35 489.99,667.07 491.01,667.78C492.02,668.49 493.04,669.18 494.06,669.87C495.08,670.55 496.10,671.23 497.12,671.89C498.13,672.55 499.15,673.21 500.17,673.85C501.19,674.49 502.21,675.13 503.23,675.75C504.24,676.38 505.26,676.99 506.28,677.60C507.30,678.21 508.32,678.81 509.34,679.41C510.35,680.00 511.37,680.59 512.39,681.17C513.41,681.75 514.43,682.33 515.45,682.90C516.46,683.47 517.48,684.03 518.50,684.60C519.51,684.53 520.53,684.46 521.54,684.40C522.55,684.34 523.56,684.29 524.58,684.24C525.59,684.19 526.60,684.15 527.62,684.11C528.63,684.07 529.64,684.03 530.66,684.00C531.67,683.96 532.68,683.92 533.69,683.88C534.71,683.84 535.72,683.80 536.73,683.75C537.75,683.70 538.76,683.65 539.77,683.59C540.78,683.53 541.80,683.46 542.81,683.39C543.82,683.31 544.84,683.22 545.85,683.13C546.86,683.03 547.87,682.92 548.89,682.79C549.90,682.67 550.91,682.53 551.93,682.38C552.94,682.22 553.95,682.05 554.97,681.86C555.98,681.67 556.99,681.46 558.00,681.23C559.02,681.00 560.03,680.75 561.04,680.47C562.06,680.20 563.07,679.90 564.08,679.57C565.09,679.25 566.11,678.90 567.12,678.52C568.13,678.13 569.15,677.73 570.16,677.29C571.17,676.85 572.19,676.38 573.20,675.88C574.21,675.37 575.22,674.83 576.24,674.26C577.25,673.69 578.26,673.08 579.28,672.46C580.29,671.83 581.30,671.17 582.31,670.50C583.33,669.84 584.34,669.14 585.35,668.46C586.37,667.77 587.38,667.07 588.39,666.37C589.40,665.68 590.42,664.99 591.43,664.31C592.44,663.64 593.46,662.97 594.47,662.33C595.48,661.69 596.50,661.06 597.51,660.48C598.52,659.90 599.53,659.33 600.55,658.83C601.56,658.33 602.57,657.87 603.59,657.48C604.60,657.10 605.61,656.77 606.62,656.53C607.64,656.29 608.65,656.13 609.66,656.05C610.68,655.96 611.69,655.96 612.70,656.04C613.71,656.12 614.73,656.27 615.74,656.50C616.75,656.73 617.77,657.04 618.78,657.43C619.79,657.81 620.81,658.28 621.82,658.80C622.83,659.33 623.84,659.94 624.86,660.59C625.87,661.24 626.88,661.96 627.90,662.69C628.91,663.42 629.92,664.20 630.93,664.99C631.95,665.77 632.96,666.58 633.97,667.38C634.99,668.17 636.00,668.98 637.01,669.76C638.03,670.53 639.04,671.29 640.05,672.03C641.06,672.76 642.08,673.47 643.09,674.15C644.10,674.84 645.12,675.50 646.13,676.13C647.14,676.76 648.15,677.36 649.17,677.94C650.18,678.51 651.19,679.06 652.21,679.57C653.22,680.09 654.23,680.57 655.24,681.02C656.26,681.48 657.27,681.90 658.28,682.28C659.30,682.67 660.31,683.02 661.32,683.34C662.34,683.66 663.35,683.94 664.36,684.18C665.37,684.42 666.39,684.59 667.40,684.80L667.40,707.80C666.39,707.48 665.37,707.14 664.36,706.82C663.35,706.50 662.34,706.19 661.32,705.88C660.31,705.57 659.30,705.27 658.28,704.97C657.27,704.67 656.26,704.37 655.24,704.08C654.23,703.80 653.22,703.51 652.21,703.23C651.19,702.95 650.18,702.68 649.17,702.41C648.15,702.14 647.14,701.88 646.13,701.62C645.12,701.36 644.10,701.11 643.09,700.86C642.08,700.61 641.06,700.37 640.05,700.13C639.04,699.89 638.03,699.65 637.01,699.42C636.00,699.20 634.99,698.97 633.97,698.75C632.96,698.53 631.95,698.32 630.93,698.11C629.92,697.90 628.91,697.69 627.90,697.49C626.88,697.29 625.87,697.10 624.86,696.91C623.84,696.71 622.83,696.53 621.82,696.35C620.81,696.17 619.79,695.99 618.78,695.82C617.77,695.64 616.75,695.48 615.74,695.31C614.73,695.15 613.71,694.99 612.70,694.84C611.69,694.69 610.68,694.54 609.66,694.39C608.65,694.25 607.64,694.11 606.62,693.97C605.61,693.84 604.60,693.71 603.59,693.58C602.57,693.45 601.56,693.33 600.55,693.21C599.53,693.09 598.52,692.98 597.51,692.87C596.50,692.76 595.48,692.66 594.47,692.56C593.46,692.46 592.44,692.36 591.43,692.27C590.42,692.18 589.40,692.09 588.39,692.01C587.38,691.93 586.37,691.85 585.35,691.77C584.34,691.70 583.33,691.63 582.31,691.56C581.30,691.49 580.29,691.43 579.28,691.37C578.26,691.31 577.25,691.25 576.24,691.19C575.22,691.13 574.21,691.08 573.20,691.02C572.19,690.97 571.17,690.91 570.16,690.86C569.15,690.80 568.13,690.75 567.12,690.69C566.11,690.64 565.09,690.58 564.08,690.52C563.07,690.46 562.06,690.40 561.04,690.34C560.03,690.28 559.02,690.22 558.00,690.15C556.99,690.08 555.98,690.01 554.97,689.93C553.95,689.86 552.94,689.78 551.93,689.69C550.91,689.61 549.90,689.52 548.89,689.42C547.87,689.33 546.86,689.23 545.85,689.13C544.84,689.02 543.82,688.91 542.81,688.79C541.80,688.68 540.78,688.56 539.77,688.43C538.76,688.30 537.75,688.16 536.73,688.02C535.72,687.88 534.71,687.73 533.69,687.57C532.68,687.41 531.67,687.25 530.66,687.08C529.64,686.90 528.63,686.72 527.62,686.54C526.60,686.35 525.59,686.15 524.58,685.94C523.56,685.74 522.55,685.52 521.54,685.30C520.53,685.08 519.51,684.83 518.50,684.60L518.50,684.60C501.07,685.83 481.98,687.23 466.20,688.30C450.42,689.37 437.93,690.10 423.80,691.00Z" fill="#CCC0B7"/>
<line x1="411.80" y1="685.00" x2="679.50" y2="685.00" stroke="#333" stroke-width="1.1" stroke-dasharray="3.4 3.3"/>
<path d="M423.80,661.00C424.80,661.34 425.80,661.67 426.81,662.00C427.81,662.34 428.81,662.67 429.81,663.00C430.82,663.33 431.82,663.66 432.82,663.99C433.82,664.31 434.83,664.64 435.83,664.97C436.83,665.29 437.83,665.62 438.84,665.94C439.84,666.26 440.84,666.59 441.84,666.91C442.85,667.23 443.85,667.54 444.85,667.86C445.85,668.18 446.86,668.49 447.86,668.80C448.86,669.11 449.86,669.42 450.87,669.73C451.87,670.04 452.87,670.34 453.87,670.65C454.88,670.95 455.88,671.25 456.88,671.55C457.88,671.84 458.89,672.14 459.89,672.43C460.89,672.72 461.89,673.01 462.90,673.30C463.90,673.58 464.90,673.87 465.90,674.15C466.91,674.43 467.91,674.70 468.91,674.97C469.91,675.25 470.92,675.52 471.92,675.78C472.92,676.05 473.92,676.31 474.93,676.57C475.93,676.83 476.93,677.08 477.93,677.33C478.94,677.58 479.94,677.83 480.94,678.07C481.94,678.31 482.95,678.55 483.95,678.78C484.95,679.02 485.95,679.25 486.96,679.47C487.96,679.69 488.96,679.91 489.96,680.13C490.97,680.34 491.97,680.55 492.97,680.76C493.97,680.96 494.98,681.17 495.98,681.36C496.98,681.56 497.98,681.75 498.99,681.93C499.99,682.11 500.99,682.29 501.99,682.47C503.00,682.64 504.00,682.81 505.00,682.97C506.00,683.13 507.00,683.29 508.01,683.44C509.01,683.59 510.01,683.74 511.01,683.88C512.02,684.01 513.02,684.15 514.02,684.27C515.02,684.40 516.03,684.52 517.03,684.63C518.03,684.75 519.03,684.85 520.04,684.95C521.04,685.05 522.04,685.15 523.04,685.23C524.05,685.32 525.05,685.40 526.05,685.47C527.05,685.54 528.06,685.61 529.06,685.67C530.06,685.73 531.06,685.78 532.07,685.82C533.07,685.86 534.07,685.90 535.07,685.93C536.08,685.96 537.08,685.98 538.08,685.99C539.08,686.00 540.09,686.01 541.09,686.01C542.09,686.00 543.09,685.99 544.10,685.97C545.10,685.95 546.10,685.93 547.10,685.89C548.11,685.86 549.11,685.81 550.11,685.76C551.11,685.71 552.12,685.65 553.12,685.58C554.12,685.51 555.12,685.43 556.13,685.35C557.13,685.27 558.13,685.17 559.13,685.08C560.14,684.98 561.14,684.87 562.14,684.76C563.14,684.64 564.15,684.52 565.15,684.40C566.15,684.27 567.15,684.14 568.16,684.00C569.16,683.86 570.16,683.71 571.16,683.56C572.17,683.40 573.17,683.24 574.17,683.08C575.17,682.91 576.18,682.74 577.18,682.56C578.18,682.39 579.18,682.20 580.19,682.02C581.19,681.83 582.19,681.64 583.19,681.46C584.20,681.28 585.20,681.09 586.20,680.92C587.20,680.74 588.20,680.57 589.21,680.41C590.21,680.25 591.21,680.09 592.21,679.96C593.22,679.82 594.22,679.69 595.22,679.59C596.22,679.48 597.23,679.39 598.23,679.33C599.23,679.26 600.23,679.21 601.24,679.19C602.24,679.18 603.24,679.18 604.24,679.21C605.25,679.25 606.25,679.31 607.25,679.41C608.25,679.51 609.26,679.64 610.26,679.80C611.26,679.96 612.26,680.15 613.27,680.36C614.27,680.58 615.27,680.83 616.27,681.09C617.28,681.36 618.28,681.65 619.28,681.97C620.28,682.28 621.29,682.61 622.29,682.96C623.29,683.31 624.29,683.68 625.30,684.07C626.30,684.45 627.30,684.85 628.30,685.26C629.31,685.67 630.31,686.09 631.31,686.52C632.31,686.94 633.32,687.38 634.32,687.83C635.32,688.27 636.32,688.72 637.33,689.17C638.33,689.62 639.33,690.07 640.33,690.52C641.34,690.97 642.34,691.42 643.34,691.87C644.34,692.31 645.35,692.76 646.35,693.19C647.35,693.62 648.35,694.05 649.36,694.47C650.36,694.89 651.36,695.30 652.36,695.69C653.37,696.08 654.37,696.46 655.37,696.83C656.37,697.19 657.38,697.54 658.38,697.87C659.38,698.19 660.38,698.50 661.39,698.79C662.39,699.07 663.39,699.34 664.39,699.57C665.40,699.81 666.40,699.99 667.40,700.20" fill="none" stroke="#D55E00" stroke-width="1.95" stroke-linecap="butt" stroke-linejoin="round"/>
<path d="M411.80,579.80V724.30H679.30" fill="none" stroke="#333333" stroke-width="1.15"/>
<line x1="409.20" y1="586.40" x2="411.80" y2="586.40" stroke="#333333" stroke-width="0.9"/>
<text x="407.80" y="590.40" text-anchor="end" font-size="11" fill="#4D4D4D">4</text>
<line x1="409.20" y1="619.40" x2="411.80" y2="619.40" stroke="#333333" stroke-width="0.9"/>
<text x="407.80" y="623.40" text-anchor="end" font-size="11" fill="#4D4D4D">3</text>
<line x1="409.20" y1="652.40" x2="411.80" y2="652.40" stroke="#333333" stroke-width="0.9"/>
<text x="407.80" y="656.40" text-anchor="end" font-size="11" fill="#4D4D4D">2</text>
<line x1="409.20" y1="685.20" x2="411.80" y2="685.20" stroke="#333333" stroke-width="0.9"/>
<text x="407.80" y="689.20" text-anchor="end" font-size="11" fill="#4D4D4D">1</text>
<line x1="409.20" y1="718.10" x2="411.80" y2="718.10" stroke="#333333" stroke-width="0.9"/>
<text x="407.80" y="722.10" text-anchor="end" font-size="11" fill="#4D4D4D">0</text>
<line x1="413.80" y1="724.30" x2="413.80" y2="726.90" stroke="#333333" stroke-width="0.9"/>
<text x="413.80" y="736.80" text-anchor="middle" font-size="11" fill="#4D4D4D">−3</text>
<line x1="496.30" y1="724.30" x2="496.30" y2="726.90" stroke="#333333" stroke-width="0.9"/>
<text x="496.30" y="736.80" text-anchor="middle" font-size="11" fill="#4D4D4D">−2</text>
<line x1="578.80" y1="724.30" x2="578.80" y2="726.90" stroke="#333333" stroke-width="0.9"/>
<text x="578.80" y="736.80" text-anchor="middle" font-size="11" fill="#4D4D4D">−1</text>
<line x1="661.30" y1="724.30" x2="661.30" y2="726.90" stroke="#333333" stroke-width="0.9"/>
<text x="661.30" y="736.80" text-anchor="middle" font-size="11" fill="#4D4D4D">0</text>
<text x="545.55" y="751.10" text-anchor="middle" font-size="14" fill="#000">DNAmAge (Ln−transformed)</text>
<text transform="translate(396.60,652.05) rotate(-90)" text-anchor="middle" font-size="14" fill="#000">Beta (95%CI)</text>
<text x="376.91" y="543.50" font-size="26.5" font-weight="bold" fill="#000" textLength="15.32" lengthAdjust="spacingAndGlyphs">F</text>
<text x="454.40" y="542.00" font-size="17.5" fill="#000">DNAmAge and leptin</text>
<text x="454.40" y="568.80" font-size="17.5" fill="#000"><tspan font-style="italic">P</tspan> = 0.043 for nonlinearity</text>
</svg>
</body></html>
